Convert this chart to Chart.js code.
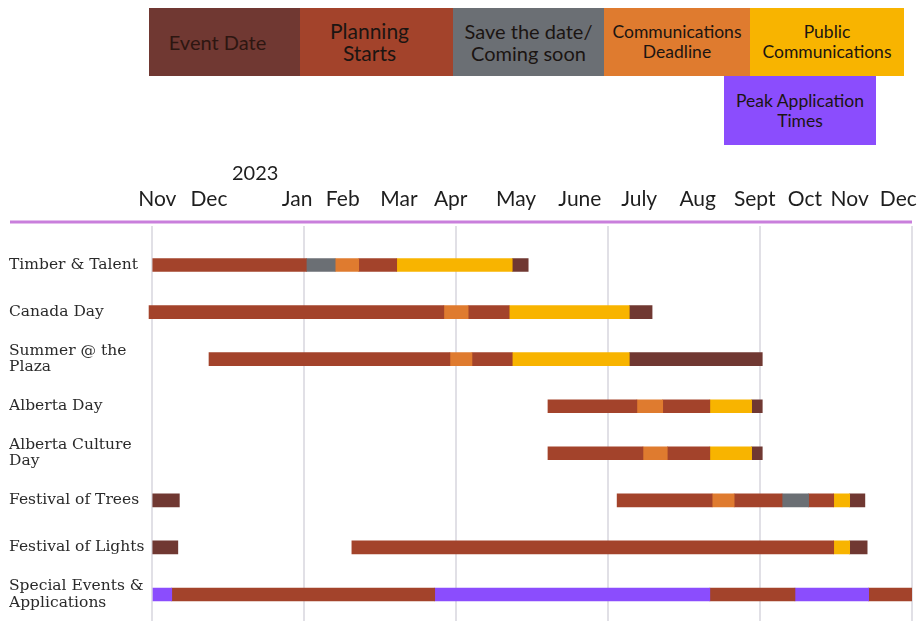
<!DOCTYPE html>
<html>
<head>
<meta charset="utf-8">
<title>Event planning timeline</title>
<script src="https://cdn.jsdelivr.net/npm/chart.js@4.4.1/dist/chart.umd.min.js"></script>
<style>
  body { margin: 0; background: #fff; }
  #wrap { position: relative; width: 923px; height: 621px; overflow: hidden; }
  #timeline { position: absolute; left: 0; top: 0; }
  .key {
    position: absolute; box-sizing: border-box;
    display: flex; align-items: center; justify-content: center; text-align: center;
    font-family: Lato, sans-serif; color: #1b1512; line-height: 21px;
  }
  .key:nth-child(1) { left: 149px; top: 8px; width: 151px; height: 68px; font-size: 20px; color: #2d1611; padding-right: 14px; }
  .key:nth-child(2) { left: 300px; top: 8px; width: 153px; height: 68px; font-size: 21px; line-height: 22px; padding-right: 14px; }
  .key:nth-child(3) { left: 453px; top: 8px; width: 151px; height: 68px; font-size: 20px; line-height: 22px; }
  .key:nth-child(4) { left: 604px; top: 8px; width: 146px; height: 68px; font-size: 17.5px; line-height: 20px; }
  .key:nth-child(5) { left: 750px; top: 8px; width: 154px; height: 68px; font-size: 17.5px; line-height: 20px; }
  .key:nth-child(6) { left: 724px; top: 76px; width: 152px; height: 69px; font-size: 17.5px; line-height: 20px; }
  #year { position: absolute; left: 232px; top: 160px; font: 20px Lato, sans-serif; color: #1e1e1e; }
</style>
</head>
<body>
<div id="wrap">
  <canvas id="timeline" width="923" height="621"></canvas>
  <div id="keys"></div>
  <div id="year">2023</div>
</div>
<script>
// timeline runs 0..100 across Nov 2022 - Dec 2023
const months = ['Nov', 'Dec', 'Jan', 'Feb', 'Mar', 'Apr', 'May', 'June', 'July', 'Aug', 'Sept', 'Oct', 'Nov', 'Dec'];
const monthPos = [0.7, 7.5, 19.1, 25.1, 32.5, 39.3, 47.9, 56.3, 64.1, 71.8, 79.3, 85.9, 91.8, 98.2];
const gridPos = [0, 20, 40, 60, 80, 100];

const events = [
  'Timber & Talent', 'Canada Day', ['Summer @ the', 'Plaza'], 'Alberta Day',
  ['Alberta Culture', 'Day'], 'Festival of Trees', 'Festival of Lights', ['Special Events &', 'Applications']
];

// phase keys: E event date, P planning, S save the date, C comms deadline,
// U public comms, A peak applications, null = gap
const phaseNames = {
  E: 'Event Date',
  P: ['Planning', 'Starts'],
  S: ['Save the date/', 'Coming soon'],
  C: ['Communications', 'Deadline'],
  U: ['Public', 'Communications'],
  A: ['Peak Application', 'Times']
};
const phaseColors = { E: '#703832', P: '#a3432b', S: '#6b6f74', C: '#df7b2f', U: '#f8b400', A: '#8b4dfd' };

const timberEdges = [0.1, 20.3, 24.1, 27.2, 32.2, 47.4, 49.5];
const timberPhases = ['P', 'S', 'C', 'P', 'U', 'E'];

const canadaEdges = [-0.4, 38.4, 41.6, 47.0, 62.8, 65.8];
const canadaPhases = ['P', 'C', 'P', 'U', 'E'];

const summerEdges = [7.5, 39.2, 42.1, 47.4, 62.8, 80.3];
const summerPhases = ['P', 'C', 'P', 'U', 'E'];

const albertaEdges = [52.1, 63.8, 67.2, 73.4, 78.9, 80.3];
const albertaPhases = ['P', 'C', 'P', 'U', 'E'];

const cultureEdges = [52.1, 64.6, 67.8, 73.4, 78.9, 80.3];
const culturePhases = ['P', 'C', 'P', 'U', 'E'];

const treesEdges = [0.1, 3.6, 61.2, 73.7, 76.6, 82.9, 86.4, 89.7, 91.8, 93.8];
const treesPhases = ['E', null, 'P', 'C', 'P', 'S', 'P', 'U', 'E'];

const lightsEdges = [0.1, 3.4, 26.3, 89.7, 91.8, 94.1];
const lightsPhases = ['E', null, 'P', 'U', 'E'];

const specialEdges = [0, 2.6, 37.2, 73.4, 84.6, 94.3, 100];
const specialPhases = ['A', 'P', 'A', 'P', 'A', 'P'];

const rowEdges = [timberEdges, canadaEdges, summerEdges, albertaEdges, cultureEdges, treesEdges, lightsEdges, specialEdges];
const rowPhases = [timberPhases, canadaPhases, summerPhases, albertaPhases, culturePhases, treesPhases, lightsPhases, specialPhases];

// colour key boxes above the chart
const keys = document.getElementById('keys');
Object.keys(phaseNames).forEach(k => {
  const box = document.createElement('div');
  box.className = 'key';
  box.style.background = phaseColors[k];
  const name = phaseNames[k];
  box.innerHTML = Array.isArray(name) ? name.join('<br>') : name;
  keys.appendChild(box);
});

// one floating bar per phase segment
const datasets = [];
rowEdges.forEach((edges, row) => {
  rowPhases[row].forEach((phase, i) => {
    if (!phase) return;
    datasets.push({
      data: [{ x: [edges[i], edges[i + 1]], y: row }],
      backgroundColor: phaseColors[phase],
      borderWidth: 0,
      barThickness: 13,
      grouped: false
    });
  });
});

// lilac rule under the month header
const headerRule = {
  id: 'headerRule',
  afterDraw(chart) {
    const { ctx, chartArea } = chart;
    ctx.save();
    ctx.strokeStyle = '#c97fdc';
    ctx.lineWidth = 3;
    ctx.beginPath();
    ctx.moveTo(10, chartArea.top - 4);
    ctx.lineTo(chartArea.right, chartArea.top - 4);
    ctx.stroke();
    ctx.restore();
  }
};

// keep tick labels from shrinking the plot area
const noPadding = s => { s.paddingLeft = s.paddingRight = s.paddingTop = s.paddingBottom = 0; };

new Chart(document.getElementById('timeline'), {
  type: 'bar',
  data: { datasets },
  options: {
    indexAxis: 'y',
    responsive: false,
    animation: false,
    layout: { padding: { left: 9, right: 11, top: 0, bottom: 0 } },
    plugins: { legend: { display: false }, tooltip: { enabled: false } },
    scales: {
      x: {
        type: 'linear', min: -0.5, max: 100, position: 'bottom', offset: false,
        afterBuildTicks: s => { s.ticks = gridPos.map(v => ({ value: v })); },
        afterFit: s => { s.height = 0; noPadding(s); },
        ticks: { display: false },
        grid: { color: '#e1e0e6', lineWidth: 2, drawTicks: false },
        border: { display: false }
      },
      x2: {
        type: 'linear', min: -0.5, max: 100, position: 'top', offset: false,
        afterBuildTicks: s => { s.ticks = monthPos.map(v => ({ value: v })); },
        afterFit: s => { s.height = 226; noPadding(s); },
        ticks: {
          autoSkip: false, maxRotation: 0, minRotation: 0, padding: 14,
          color: '#1e1e1e', font: { family: 'Lato', size: 21 },
          callback: (v, i) => months[i]
        },
        grid: { display: false, drawTicks: false },
        border: { display: false }
      },
      y: {
        type: 'linear', reverse: true, min: -0.829, max: 7.563, offset: false,
        afterBuildTicks: s => { s.ticks = events.map((_, i) => ({ value: i })); },
        afterFit: s => { s.width = 139.2; noPadding(s); },
        ticks: {
          crossAlign: 'far', color: '#2a2a2a',
          font: { family: 'DejaVu Serif', size: 15.5, lineHeight: 1.05 },
          callback: (v, i) => events[i]
        },
        grid: { display: false },
        border: { display: false }
      }
    }
  },
  plugins: [headerRule]
});
</script>
</body>
</html>
